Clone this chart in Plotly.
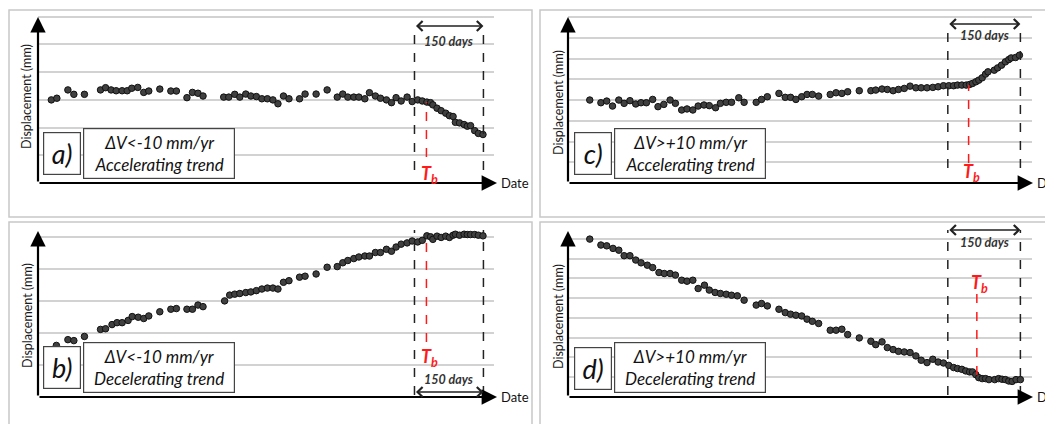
import plotly.graph_objects as go

# ---- data (days since first acquisition, displacement in mm) ----
A_DAYS = [0, 12, 36, 49, 72, 107, 118, 130, 141, 154, 165, 175, 188, 201, 212, 236, 260, 272,
          295, 307, 319, 330, 375, 386, 399, 410, 423, 434, 446, 458, 470, 482, 493, 505, 517,
          540, 552, 576, 600, 622, 634, 645, 658, 669, 682, 692, 705, 716, 729, 740, 750, 761,
          774, 785, 797, 807, 817, 825, 830, 839, 848, 858, 866, 874, 879, 888, 898, 905, 912,
          921, 929, 939]
A_DISP = [0, 0.6, 3.6, 2.0, 2.0, 3.6, 4.4, 3.6, 3.3, 3.3, 3.3, 4.2, 4.5, 2.7, 3.2, 3.9, 3.2, 3.2,
          0.8, 2.7, 2.4, 1.4, 1.0, 1.0, 2.0, 1.0, 2.1, 1.4, 1.2, 0.4, 0.4, 0, -1.4, 1.4, 0.4,
          0.4, 2.1, 2.1, 3.6, 1.0, 2.1, 1.0, 1.0, 1.0, 0.4, 2.6, 1.4, 0.6, 0, -1.0, 0.8, -0.4,
          1.0, -0.6, 0, -0.4, -0.8, -1.0, -1.8, -3.0, -3.9, -4.8, -5.7, -6.0, -8.1, -8.3, -8.9,
          -9.5, -9.3, -11.1, -12.1, -12.5]

B_DAYS = [11, 36, 49, 72, 107, 118, 132, 143, 154, 167, 176, 189, 201, 212, 236, 260, 272, 295,
          307, 319, 330, 377, 388, 399, 410, 423, 434, 446, 458, 470, 482, 493, 505, 517, 540,
          552, 576, 600, 622, 634, 645, 658, 669, 682, 692, 705, 716, 729, 740, 750, 761, 774,
          785, 797, 807, 817, 825, 830, 839, 848, 858, 866, 874, 879, 888, 898, 905, 912, 921,
          929, 939]
B_DISP = [16.1, 17.9, 17.6, 18.9, 21.1, 21.3, 22.6, 23.2, 23.2, 23.9, 25.1, 24.9, 24.5, 25.3,
          26.6, 27.4, 27.6, 27.4, 27.4, 28.7, 28.2, 30.0, 31.8, 32.1, 32.3, 32.6, 32.8, 33.2,
          33.7, 34.0, 34.0, 33.7, 35.8, 36.3, 37.4, 37.7, 38.4, 40.5, 40.7, 41.9, 42.6, 43.2,
          43.7, 44.0, 44.0, 45.1, 45.1, 46.1, 45.5, 46.8, 47.7, 48.1, 48.7, 48.4, 48.9, 50.3,
          50.0, 49.2, 50.2, 49.8, 50.2, 49.8, 50.5, 50.8, 50.5, 50.8, 50.7, 50.7, 50.7, 50.5,
          50.3]

C_DAYS = [0, 23, 35, 47, 60, 71, 83, 95, 106, 117, 130, 141, 153, 166, 177, 190, 201, 213, 224,
          236, 247, 260, 270, 282, 293, 308, 319, 344, 355, 367, 391, 404, 415, 426, 438, 449,
          460, 473, 497, 509, 521, 533, 557, 581, 591, 604, 615, 627, 638, 650, 662, 674, 685,
          697, 709, 720, 731, 742, 752, 760, 769, 778, 785, 791, 798, 804, 811, 818, 823, 836,
          843, 851, 859, 866, 871, 880, 888]
C_DISP = [0, -1.3, -0.5, -2.9, 0, -1.6, -0.3, -1.9, -1.3, -1.3, 0.3, -3.2, -2.1, 0, -1.6, -4.8,
          -4.3, -4.8, -2.9, -2.4, -2.7, -3.7, -1.6, -1.1, -1.1, 1.1, -1.1, -1.1, 0.3, 1.6, 3.2,
          1.3, 1.3, 0.3, 1.6, 2.7, 2.7, 1.9, 2.7, 3.5, 3.2, 4.0, 4.5, 4.5, 4.8, 5.3, 5.1, 4.5,
          5.1, 5.6, 6.7, 5.9, 5.9, 5.9, 6.1, 6.4, 6.9, 6.9, 6.9, 7.2, 7.2, 7.2, 7.5, 8.0, 8.8,
          9.6, 10.7, 12.5, 13.6, 14.4, 15.5, 16.8, 18.4, 19.5, 20.3, 20.5, 21.6]

D_DAYS = [0, 23, 35, 48, 60, 71, 83, 95, 106, 119, 130, 143, 154, 166, 177, 190, 201, 213, 224,
          237, 247, 259, 270, 282, 293, 305, 319, 344, 355, 367, 391, 404, 415, 426, 438, 449,
          460, 473, 497, 509, 521, 533, 557, 581, 591, 604, 615, 627, 638, 650, 662, 674, 685,
          697, 709, 720, 731, 742, 752, 760, 769, 777, 785, 791, 798, 804, 811, 818, 825, 837,
          845, 852, 859, 866, 873, 881, 890]
D_DISP = [79.9, 76.9, 76.5, 75.2, 74.3, 71.5, 71.5, 69.3, 67.9, 66.7, 65.5, 63.0, 62.5, 62.5,
          61.7, 59.1, 58.6, 59.1, 54.9, 56.6, 54.1, 52.9, 52.4, 52.0, 51.5, 51.2, 49.0, 46.5,
          47.3, 46.1, 44.4, 42.7, 41.9, 41.4, 41.0, 39.4, 38.3, 37.2, 33.8, 33.8, 34.3, 31.6,
          29.9, 28.2, 26.5, 27.9, 25.0, 24.0, 23.1, 22.8, 22.5, 20.8, 18.6, 17.4, 19.1, 17.7,
          17.2, 16.0, 14.9, 14.4, 14.0, 13.2, 12.7, 12.7, 11.3, 9.8, 9.3, 9.3, 8.8, 8.8, 9.3,
          9.0, 8.8, 8.1, 7.9, 8.8, 8.8]

# 150-day observation window (start, end) and break date Tb, in days
WINDOWS = {"a": (790, 940), "b": (790, 940), "c": (740, 890), "d": (740, 890)}
TB_DAYS = {"a": 816, "b": 816, "c": 783, "d": 800}

LABELS = {"a": "a)", "b": "b)", "c": "c)", "d": "d)"}
VEL_TEXT = {"a": "ΔV&lt;-10 mm/yr", "b": "ΔV&lt;-10 mm/yr", "c": "ΔV&gt;+10 mm/yr", "d": "ΔV&gt;+10 mm/yr"}
TREND_TEXT = {"a": "Accelerating trend", "b": "Decelerating trend",
              "c": "Accelerating trend", "d": "Decelerating trend"}

# the page puts an 8px body margin around the figure; the window cuts what overflows
OFF = 8
FW, FH = 1053, 424
FONT = "Lato"


def px(x):
    return (x - OFF) / FW


def py(y):
    return 1 - (y - OFF) / FH


# layout of the four panels (window pixel geometry)
PANELS = [
    dict(key="a", days=A_DAYS, disp=A_DISP, xpx=(38, 494), ypx=(183, 14), xr=[-29, 963],
         yr=[-30, 31], grid=[-20, -10, 0, 10, 20, 30], arrow_tip=497, ytip=17,
         frame=(9, 10, 532, 217), dash=(27, 170), red=(102, 157), tb_y=174,
         win_arrow=26, win_text=41, box_y=153.5, title_x=27, title_y=97, off=0),
    dict(key="b", days=B_DAYS, disp=B_DISP, xpx=(38, 494), ypx=(397, 232), xr=[-29, 963],
         yr=[0, 51.5], grid=[10, 20, 30, 40, 50], arrow_tip=497, ytip=231,
         frame=(9, 222, 532, 445), dash=(230, 395), red=(237, 342), tb_y=357,
         win_arrow=392, win_text=379, box_y=367.5, title_x=27, title_y=316, off=0),
    dict(key="c", days=C_DAYS, disp=C_DISP, xpx=(568, 1032), ypx=(183, 15), xr=[-45, 914],
         yr=[-40, 41], grid=[-30, -20, -10, 0, 10, 20, 30, 40], arrow_tip=1033, ytip=17,
         frame=(540, 10, 1075, 217), dash=(25, 168), red=(85, 163), tb_y=173,
         win_arrow=24, win_text=36, box_y=153.5, title_x=558, title_y=102, off=531),
    dict(key="d", days=D_DAYS, disp=D_DISP, xpx=(568, 1032), ypx=(397, 232), xr=[-45, 914],
         yr=[0, 83.5], grid=[10, 20, 30, 40, 50, 60, 70, 80], arrow_tip=1033, ytip=231,
         frame=(540, 222, 1075, 445), dash=(230, 395), red=(290, 375), tb_y=283,
         win_arrow=230, win_text=243, box_y=368, title_x=558, title_y=316, off=531),
]

fig = go.Figure()
layout = dict(width=FW, height=FH, margin=dict(l=0, r=0, t=0, b=0), showlegend=False,
              paper_bgcolor="white", plot_bgcolor="white", font=dict(family=FONT))
shapes = []
annotations = []

for i, p in enumerate(PANELS, start=1):
    xid = "x" if i == 1 else f"x{i}"
    yid = "y" if i == 1 else f"y{i}"
    xkey = "xaxis" if i == 1 else f"xaxis{i}"
    ykey = "yaxis" if i == 1 else f"yaxis{i}"
    x0, x1 = p["xpx"]
    yb, yt = p["ypx"]
    key = p["key"]

    layout[xkey] = dict(domain=[px(x0), px(x1)], range=p["xr"], anchor=yid, showgrid=False,
                        zeroline=False, showline=False, showticklabels=False, ticks="")
    layout[ykey] = dict(domain=[py(yb), py(yt)], range=p["yr"], anchor=xid, showgrid=True,
                        tickmode="array", tickvals=p["grid"], gridcolor="#d2d2d2", gridwidth=1.5,
                        zeroline=False, showline=False, showticklabels=False, ticks="")

    fig.add_trace(go.Scatter(
        x=p["days"], y=p["disp"], mode="markers", xaxis=xid, yaxis=yid,
        marker=dict(size=6.5, color="#404040", line=dict(color="#111111", width=1)),
        cliponaxis=False, hoverinfo="skip"))

    # panel frame
    fx0, fy0, fx1, fy1 = p["frame"]
    shapes.append(dict(type="rect", xref="paper", yref="paper", x0=px(fx0), x1=px(fx1),
                       y0=py(fy1), y1=py(fy0), line=dict(color="#c8c8c8", width=1.5), layer="below"))

    # 150-day window and Tb lines
    w0, w1 = WINDOWS[key]
    for wx in (w0, w1):
        shapes.append(dict(type="line", xref=xid, yref="paper", x0=wx, x1=wx,
                           y0=py(p["dash"][1]), y1=py(p["dash"][0]),
                           line=dict(color="#222222", width=1.5, dash="dash")))
    tb = TB_DAYS[key]
    shapes.append(dict(type="line", xref=xid, yref="paper", x0=tb, x1=tb,
                       y0=py(p["red"][1]), y1=py(p["red"][0]),
                       line=dict(color="#ff1a1a", width=1.5, dash="dash")))

    # axes with arrow heads
    annotations.append(dict(x=px(p["arrow_tip"]), y=py(yb), xref="paper", yref="paper",
                            ax=-(p["arrow_tip"] - x0), ay=0, showarrow=True, arrowhead=2,
                            arrowsize=1.4, arrowwidth=2.2, arrowcolor="black", text="",
                            standoff=0, startstandoff=0))
    annotations.append(dict(x=px(x0), y=py(p["ytip"]), xref="paper", yref="paper",
                            ax=0, ay=(yb - p["ytip"]), showarrow=True, arrowhead=2,
                            arrowsize=1.4, arrowwidth=2.2, arrowcolor="black", text="",
                            standoff=0, startstandoff=0))
    annotations.append(dict(x=px(p["arrow_tip"] + 2), y=py(yb), xref="paper", yref="paper",
                            xanchor="left", yanchor="middle", showarrow=False, text="Date",
                            font=dict(family=FONT, size=13, color="#111111")))
    annotations.append(dict(x=px(p["title_x"]), y=py(p["title_y"]), xref="paper", yref="paper",
                            textangle=-90, showarrow=False, text="Displacement (mm)",
                            xanchor="center", yanchor="middle",
                            font=dict(family=FONT, size=12.5, color="#1a1a1a")))

    # 150 days double arrow
    annotations.append(dict(x=w1, y=py(p["win_arrow"]), xref=xid, yref="paper",
                            ax=w0, ay=0, axref=xid, ayref="pixel", showarrow=True,
                            arrowhead=4, startarrowhead=4, arrowside="end+start",
                            arrowsize=1.3, startarrowsize=1.3, arrowwidth=1.5,
                            arrowcolor="#222222", text="", standoff=0, startstandoff=0))
    annotations.append(dict(x=(w0 + w1) / 2, y=py(p["win_text"]), xref=xid, yref="paper",
                            xanchor="center", yanchor="middle",
                            showarrow=False, text="<b><i>150 days</i></b>",
                            font=dict(family=FONT, size=12.5, color="#333333")))
    # Tb label
    annotations.append(dict(x=tb, y=py(p["tb_y"]), xref=xid, yref="paper", xshift=3,
                            xanchor="center", yanchor="middle",
                            showarrow=False, text="<b><i>T<sub>b</sub></i></b>",
                            font=dict(family=FONT, size=18, color="#ff1a1a")))

    # label boxes
    off = p["off"]
    annotations.append(dict(x=px(62 + off), y=py(p["box_y"]), xref="paper", yref="paper",
                            xanchor="center", yanchor="middle",
                            showarrow=False, text="<i>" + LABELS[key] + "</i>",
                            width=36, height=41, borderpad=0, bordercolor="#444444",
                            borderwidth=1.2, bgcolor="white",
                            font=dict(family=FONT, size=27, color="#111111")))
    annotations.append(dict(x=px(159 + off), y=py(p["box_y"] - 0.5), xref="paper", yref="paper",
                            xanchor="center", yanchor="middle", showarrow=False,
                            text="<i>" + VEL_TEXT[key] + "<br>" + TREND_TEXT[key] + "</i>",
                            width=150, height=49, borderpad=0, bordercolor="#444444",
                            borderwidth=1.2, bgcolor="white",
                            font=dict(family=FONT, size=17, color="#111111")))

layout["shapes"] = shapes
layout["annotations"] = annotations
fig.update_layout(**layout)

fig.write_html("out.html")
